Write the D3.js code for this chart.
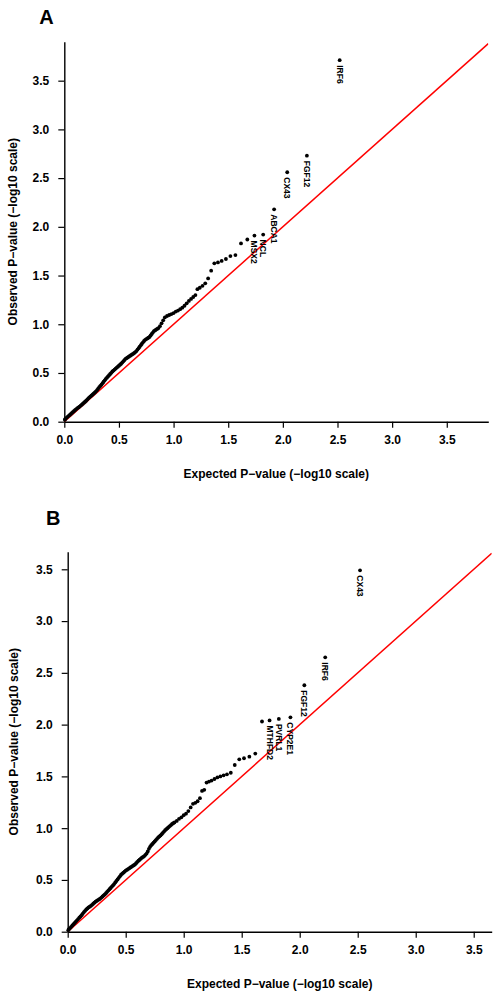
<!DOCTYPE html>
<html>
<head>
<meta charset="utf-8">
<script src="https://cdn.jsdelivr.net/npm/d3@7"></script>
<style>
  html, body { margin: 0; padding: 0; background: #fff; }
  svg { display: block; }
  text { font-family: "Liberation Sans", Arial, sans-serif; font-weight: bold; fill: #000; }
</style>
</head>
<body>
<div id="chart"></div>
<script>
// ---------------- DATA ----------------
const tickValues = [0, 0.5, 1, 1.5, 2, 2.5, 3, 3.5];
const tickLabels = ["0.0", "0.5", "1.0", "1.5", "2.0", "2.5", "3.0", "3.5"];
const xTitle = "Expected P\u2212value (\u2212log10 scale)";
const yTitle = "Observed P\u2212value (\u2212log10 scale)";

// Panel A: expected vs observed (-log10 p), sorted from most significant
const expectedA = [2.52, 2.22, 2.04, 1.92, 1.82, 1.74, 1.675, 1.617, 1.566, 1.52, 1.479, 1.44, 1.406, 1.373, 1.344, 1.316, 1.29, 1.265, 1.24, 1.218,
  1.20, 1.18, 1.16, 1.14, 1.12, 1.10, 1.08, 1.06, 1.04, 1.02, 1.00, 0.98, 0.96, 0.94, 0.92, 0.905, 0.89, 0.875,
  0.86, 0.85, 0.84, 0.83, 0.82, 0.81, 0.80, 0.79, 0.78, 0.77,
  0.76, 0.75, 0.74, 0.73, 0.72, 0.71, 0.70, 0.69, 0.68, 0.67,
  0.66, 0.65, 0.64, 0.63, 0.62, 0.61, 0.60, 0.59, 0.58, 0.57,
  0.56, 0.55, 0.54, 0.53, 0.52, 0.51, 0.50, 0.49, 0.48, 0.47,
  0.46, 0.45, 0.44, 0.43, 0.42, 0.41, 0.40, 0.39, 0.38, 0.37,
  0.36, 0.35, 0.34, 0.33, 0.32, 0.31, 0.30, 0.29, 0.28, 0.27,
  0.26, 0.25, 0.24, 0.23, 0.22, 0.21, 0.20, 0.19, 0.18, 0.17,
  0.16, 0.15, 0.14, 0.13, 0.12, 0.11, 0.10, 0.09, 0.08, 0.07,
  0.06, 0.05, 0.04, 0.03, 0.02, 0.01, 0.005];
const observedA = [3.71, 2.73, 2.56, 2.18, 1.92, 1.91, 1.87, 1.83, 1.71, 1.70, 1.67, 1.65, 1.635, 1.625, 1.55, 1.47, 1.42, 1.395, 1.375, 1.36,
  1.30, 1.28, 1.26, 1.24, 1.215, 1.19, 1.17, 1.155, 1.14, 1.13, 1.115, 1.105, 1.095, 1.085, 1.07, 1.04, 1.01, 0.98,
  0.96, 0.952, 0.945, 0.937, 0.93, 0.915, 0.90, 0.885, 0.87, 0.862,
  0.855, 0.848, 0.84, 0.828, 0.815, 0.80, 0.785, 0.77, 0.755, 0.74,
  0.725, 0.715, 0.705, 0.697, 0.69, 0.682, 0.675, 0.667, 0.66, 0.652,
  0.645, 0.632, 0.62, 0.607, 0.595, 0.585, 0.575, 0.565, 0.555, 0.545,
  0.535, 0.525, 0.515, 0.502, 0.49, 0.477, 0.465, 0.452, 0.44, 0.425,
  0.41, 0.395, 0.38, 0.367, 0.355, 0.34, 0.325, 0.312, 0.30, 0.29,
  0.28, 0.27, 0.26, 0.25, 0.24, 0.227, 0.215, 0.205, 0.195, 0.185,
  0.175, 0.165, 0.155, 0.147, 0.14, 0.13, 0.12, 0.11, 0.10, 0.09,
  0.08, 0.07, 0.06, 0.05, 0.04, 0.03, 0.02];
const genesA = ["IRF6", "FGF12", "CX43", "ABCA1", "NCL", "MSX2"];

// Panel B
const expectedB = [2.52, 2.22, 2.04, 1.92, 1.82, 1.74, 1.675, 1.617, 1.566, 1.52, 1.479, 1.44, 1.406, 1.373, 1.344, 1.316, 1.29, 1.265, 1.24, 1.218,
  1.197, 1.177, 1.158, 1.14, 1.12, 1.10, 1.08, 1.06, 1.04, 1.02, 1.00, 0.98, 0.96, 0.94, 0.92,
  0.91, 0.90, 0.89, 0.88, 0.87, 0.86, 0.85, 0.84, 0.83, 0.82,
  0.81, 0.80, 0.79, 0.78, 0.77, 0.76, 0.75, 0.74, 0.73, 0.72,
  0.71, 0.70, 0.69, 0.68, 0.67, 0.66, 0.65, 0.64, 0.63, 0.62,
  0.61, 0.60, 0.59, 0.58, 0.57, 0.56, 0.55, 0.54, 0.53, 0.52,
  0.51, 0.50, 0.49, 0.48, 0.47, 0.46, 0.45, 0.44, 0.43, 0.42,
  0.41, 0.40, 0.39, 0.38, 0.37, 0.36, 0.35, 0.34, 0.33, 0.32,
  0.31, 0.30, 0.29, 0.28, 0.27, 0.26, 0.25, 0.24, 0.23, 0.22,
  0.21, 0.20, 0.19, 0.18, 0.17, 0.16, 0.15, 0.14, 0.13, 0.12,
  0.11, 0.10, 0.09, 0.08, 0.07, 0.06, 0.05, 0.04, 0.03, 0.02,
  0.01, 0.005];
const observedB = [3.49, 2.65, 2.38, 2.07, 2.055, 2.04, 2.03, 1.72, 1.69, 1.675, 1.665, 1.61, 1.535, 1.52, 1.51, 1.50, 1.49, 1.475, 1.46, 1.45,
  1.44, 1.37, 1.36, 1.29, 1.26, 1.245, 1.235, 1.20, 1.165, 1.14, 1.125, 1.105, 1.09, 1.07, 1.055,
  1.048, 1.04, 1.03, 1.02, 1.01, 1.00, 0.99, 0.98, 0.967, 0.955,
  0.942, 0.93, 0.92, 0.91, 0.897, 0.885, 0.872, 0.86, 0.848, 0.835,
  0.82, 0.80, 0.775, 0.755, 0.742, 0.73, 0.722, 0.715, 0.705, 0.695,
  0.685, 0.675, 0.662, 0.65, 0.642, 0.635, 0.627, 0.62, 0.612, 0.605,
  0.597, 0.59, 0.58, 0.57, 0.56, 0.55, 0.535, 0.52, 0.505, 0.49,
  0.475, 0.46, 0.447, 0.435, 0.422, 0.41, 0.397, 0.385, 0.372, 0.36,
  0.35, 0.34, 0.33, 0.32, 0.312, 0.305, 0.297, 0.29, 0.28, 0.27,
  0.26, 0.25, 0.242, 0.235, 0.225, 0.215, 0.202, 0.19, 0.175, 0.16,
  0.147, 0.135, 0.122, 0.11, 0.097, 0.085, 0.072, 0.06, 0.047, 0.035,
  0.025, 0.015];
const genesB = ["CX43", "IRF6", "FGF12", "CYP2E1", "PVRL1", "MTHFD2"];

// ---------------- DRAW ----------------
const W = 501, H = 997;
const svg = d3.select("#chart").append("svg").attr("width", W).attr("height", H);

function drawPanel(cfg) {
  const x = d3.scaleLinear().domain([0, cfg.xmax]).range([cfg.left, cfg.right]);
  const y = d3.scaleLinear().domain([0, cfg.ymax]).range([cfg.bottom, cfg.top]);
  const g = svg.append("g");
  const clipId = "clip" + cfg.letter;
  svg.append("clipPath").attr("id", clipId).append("rect")
    .attr("x", cfg.left).attr("y", cfg.top)
    .attr("width", cfg.right - cfg.left).attr("height", cfg.bottom - cfg.top);

  // axes
  const xAxis = d3.axisBottom(x).tickValues(tickValues).tickFormat((d, i) => tickLabels[i])
    .tickSize(6).tickSizeOuter(0).tickPadding(8);
  const yAxis = d3.axisLeft(y).tickValues(tickValues).tickFormat((d, i) => tickLabels[i])
    .tickSize(6).tickSizeOuter(0).tickPadding(9);
  const gx = g.append("g").attr("transform", `translate(0,${cfg.bottom})`).call(xAxis);
  const gy = g.append("g").attr("transform", `translate(${cfg.left},0)`).call(yAxis);
  [gx, gy].forEach(a => {
    a.selectAll("path.domain").attr("stroke", "#000").attr("stroke-width", 1.4);
    a.selectAll(".tick line").attr("stroke", "#000").attr("stroke-width", 1.2);
    a.selectAll(".tick text").style("font-size", "12px").style("font-family", "'Liberation Sans', Arial, sans-serif").style("font-weight", "bold").attr("fill", "#000");
  });

  // reference line y = x
  const lim = Math.min(cfg.xmax, cfg.ymax);
  g.append("line")
    .attr("clip-path", `url(#${clipId})`)
    .attr("x1", x(0)).attr("y1", y(0))
    .attr("x2", x(lim)).attr("y2", y(lim))
    .attr("stroke", "#ff0000").attr("stroke-width", 1.5);

  // points
  const n = Math.min(cfg.exp.length, cfg.obs.length);
  const pts = cfg.exp.slice(0, n).map((e, i) => ({ e, o: cfg.obs[i], gene: cfg.genes[i] }));
  g.append("g").selectAll("circle").data(pts).join("circle")
    .attr("cx", d => x(d.e)).attr("cy", d => y(d.o)).attr("r", 1.9).attr("fill", "#000");

  // gene labels
  g.append("g").selectAll("text").data(pts.filter(d => d.gene)).join("text")
    .attr("transform", d => `translate(${x(d.e)},${y(d.o) + 5}) rotate(90)`)
    .attr("dy", "0.35em")
    .style("font-size", "8.5px")
    .text(d => d.gene);

  // titles
  g.append("text").attr("x", (cfg.left + cfg.right) / 2).attr("y", cfg.bottom + 56)
    .attr("text-anchor", "middle").style("font-size", "12px").text(xTitle);
  g.append("text")
    .attr("transform", `translate(${cfg.ytx},${(cfg.top + cfg.bottom) / 2}) rotate(-90)`)
    .attr("text-anchor", "middle").style("font-size", "12px").text(yTitle);
  g.append("text").attr("x", cfg.lx).attr("y", cfg.ly).style("font-size", "20px").text(cfg.letter);
}

drawPanel({ letter: "A", left: 64.3, right: 488.3, top: 41.7, bottom: 421.7, xmax: 3.88, ymax: 3.9,
  exp: expectedA, obs: observedA, genes: genesA, ytx: 16.5, lx: 39.3, ly: 24 });
drawPanel({ letter: "B", left: 67.7, right: 491.7, top: 551.7, bottom: 931.7, xmax: 3.655, ymax: 3.67,
  exp: expectedB, obs: observedB, genes: genesB, ytx: 18, lx: 46, ly: 525 });
</script>
</body>
</html>
